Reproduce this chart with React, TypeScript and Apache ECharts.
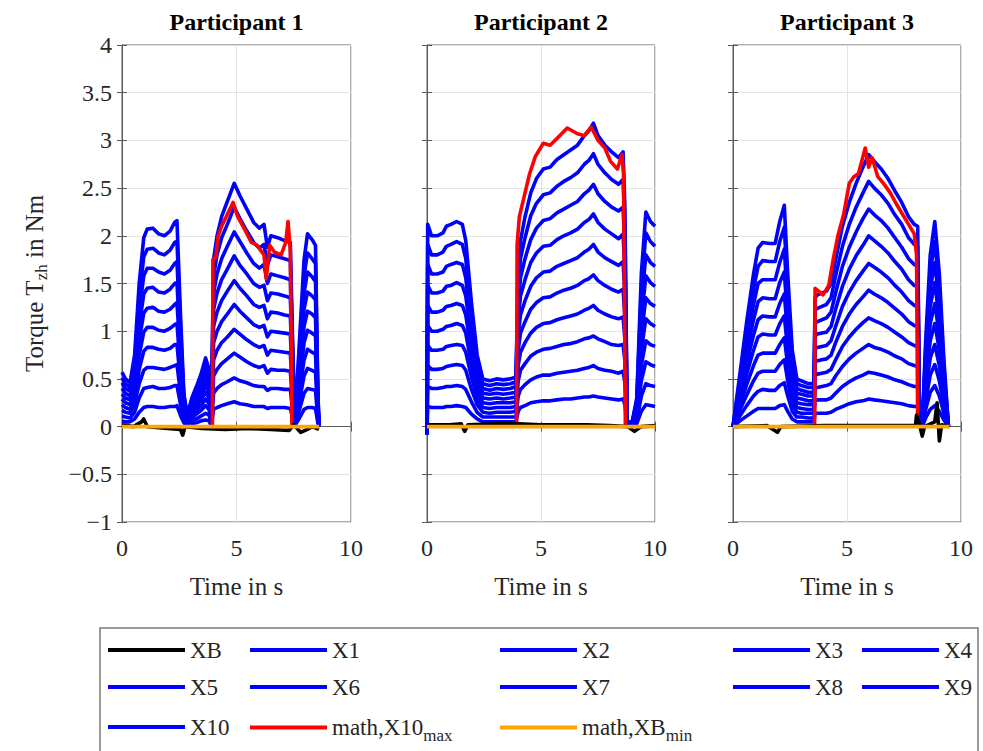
import React, { useEffect, useRef } from "react";
import * as echarts from "echarts";

// ---------- Participant 1 ----------
const T1 = [0, 0.15, 0.35, 0.55, 0.75, 0.95, 1.1, 1.35, 1.6, 1.85, 2.1, 2.3, 2.4, 2.55, 2.7, 2.85, 3.05, 3.25, 3.45, 3.65, 3.8, 3.9, 4.0, 4.15, 4.35, 4.6, 4.9, 5.15, 5.45, 5.75, 6.0, 6.2, 6.35, 6.5, 6.8, 7.1, 7.35, 7.45, 7.55, 7.75, 7.95, 8.1, 8.3, 8.45, 8.55, 8.6];
const P1_X1 = [0.06,0.05,0.05,0.08,0.15,0.20,0.21,0.21,0.20,0.20,0.21,0.21,0.22,0.12,0.04,0.01,0.03,0.04,0.06,0.07,0.06,0.01,0.18,0.20,0.22,0.24,0.26,0.24,0.23,0.21,0.21,0.21,0.19,0.20,0.20,0.20,0.19,0.09,0.01,0.09,0.18,0.20,0.20,0.19,0.04,0.00];
const P1_X2 = [0.11,0.10,0.09,0.15,0.30,0.40,0.41,0.42,0.40,0.40,0.41,0.43,0.43,0.24,0.07,0.02,0.06,0.08,0.11,0.14,0.12,0.02,0.35,0.40,0.44,0.47,0.51,0.48,0.46,0.43,0.42,0.42,0.38,0.40,0.40,0.39,0.39,0.18,0.01,0.18,0.35,0.40,0.39,0.38,0.08,0.00];
const P1_X3 = [0.17,0.15,0.14,0.23,0.45,0.59,0.62,0.62,0.61,0.60,0.62,0.64,0.65,0.36,0.11,0.04,0.09,0.13,0.17,0.22,0.18,0.03,0.53,0.60,0.66,0.71,0.77,0.73,0.68,0.64,0.62,0.64,0.56,0.60,0.59,0.59,0.58,0.27,0.02,0.27,0.53,0.61,0.59,0.57,0.12,0.01];
const P1_X4 = [0.23,0.20,0.18,0.30,0.60,0.79,0.83,0.83,0.81,0.80,0.82,0.86,0.86,0.48,0.14,0.05,0.12,0.17,0.22,0.29,0.24,0.04,0.70,0.80,0.88,0.94,1.02,0.97,0.91,0.86,0.83,0.85,0.75,0.80,0.79,0.78,0.77,0.36,0.02,0.36,0.70,0.81,0.78,0.76,0.16,0.01];
const P1_X5 = [0.29,0.25,0.23,0.38,0.75,0.99,1.04,1.04,1.01,1.00,1.03,1.07,1.08,0.60,0.18,0.06,0.15,0.21,0.28,0.36,0.30,0.05,0.88,1.00,1.10,1.18,1.28,1.21,1.14,1.07,1.04,1.06,0.94,1.00,0.99,0.98,0.97,0.45,0.03,0.45,0.88,1.01,0.98,0.95,0.20,0.01];
const P1_X6 = [0.34,0.30,0.28,0.45,0.90,1.19,1.24,1.25,1.21,1.20,1.23,1.28,1.30,0.72,0.21,0.07,0.18,0.25,0.33,0.43,0.36,0.06,1.05,1.20,1.32,1.42,1.53,1.45,1.37,1.28,1.25,1.27,1.13,1.20,1.19,1.17,1.16,0.54,0.03,0.54,1.05,1.21,1.18,1.14,0.24,0.01];
const P1_X7 = [0.40,0.35,0.32,0.53,1.05,1.39,1.45,1.46,1.41,1.40,1.44,1.50,1.51,0.84,0.25,0.08,0.21,0.29,0.39,0.50,0.42,0.07,1.23,1.40,1.54,1.65,1.79,1.69,1.60,1.50,1.46,1.48,1.32,1.40,1.39,1.37,1.35,0.63,0.04,0.63,1.23,1.41,1.37,1.33,0.28,0.01];
const P1_X8 = [0.46,0.40,0.37,0.60,1.20,1.58,1.66,1.66,1.62,1.60,1.64,1.71,1.73,0.96,0.28,0.10,0.24,0.34,0.44,0.58,0.48,0.08,1.40,1.60,1.76,1.89,2.04,1.94,1.82,1.71,1.66,1.70,1.50,1.60,1.58,1.56,1.54,0.72,0.04,0.72,1.40,1.62,1.57,1.52,0.32,0.02];
const P1_X9 = [0.51,0.45,0.41,0.68,1.35,1.78,1.86,1.87,1.82,1.80,1.85,1.93,1.94,1.08,0.32,0.11,0.27,0.38,0.50,0.65,0.54,0.09,1.58,1.80,1.98,2.12,2.30,2.18,2.05,1.93,1.87,1.91,1.69,1.80,1.78,1.76,1.74,0.81,0.05,0.81,1.58,1.82,1.76,1.71,0.36,0.02];
const P1_X10 = [0.57,0.50,0.46,0.75,1.50,1.98,2.07,2.08,2.02,2.00,2.05,2.14,2.16,1.20,0.35,0.12,0.30,0.42,0.55,0.72,0.60,0.10,1.75,2.00,2.20,2.36,2.55,2.42,2.28,2.14,2.08,2.12,1.88,2.00,1.98,1.95,1.93,0.90,0.05,0.90,1.75,2.02,1.96,1.90,0.40,0.02];
const P1_MAX_T = [3.95, 3.97, 4.1, 4.2, 4.35, 4.55, 4.85, 5.05, 5.35, 5.65, 5.9, 6.2, 6.3, 6.45, 6.65, 6.95, 7.15, 7.25, 7.35, 7.42];
const P1_MAX_V = [0, 1.75, 1.78, 2.0, 2.1, 2.2, 2.35, 2.2, 2.07, 1.93, 1.9, 1.8, 1.55, 1.9, 1.83, 1.8, 1.93, 2.15, 1.85, 0];
const P1_XB_T = [0, 0.5, 0.85, 0.95, 1.1, 2.0, 2.55, 2.65, 2.75, 3.5, 4.5, 5.5, 6.5, 7.3, 7.5, 7.8, 8.1, 8.3, 8.6];
const P1_XB_V = [0.02, 0.0, 0.05, 0.08, 0.0, -0.02, -0.03, -0.09, 0.0, -0.02, -0.03, -0.02, -0.03, -0.04, 0.02, -0.06, -0.03, 0.0, -0.03];
const P1_MIN_T = [0, 8.6];
const P1_MIN_V = [0, 0];

// ---------- Participant 2 ----------
const T2 = [0, 0.03, 0.2, 0.45, 0.7, 0.85, 1.05, 1.3, 1.55, 1.7, 1.95, 2.2, 2.45, 2.75, 3.05, 3.35, 3.65, 3.9, 4.0, 4.1, 4.3, 4.55, 4.8, 5.1, 5.4, 5.7, 6.0, 6.3, 6.6, 6.9, 7.1, 7.3, 7.5, 7.8, 8.1, 8.4, 8.6, 8.68, 8.78, 9.0, 9.2, 9.4, 9.6, 9.8, 10];
const P2_X1 = [-0.08,0.21,0.20,0.20,0.20,0.21,0.21,0.22,0.21,0.20,0.13,0.08,0.05,0.05,0.05,0.05,0.05,0.05,0.16,0.20,0.22,0.25,0.26,0.27,0.27,0.28,0.29,0.29,0.30,0.31,0.31,0.32,0.31,0.30,0.29,0.28,0.29,0.23,0.01,0.01,0.03,0.16,0.23,0.22,0.21];
const P2_X2 = [-0.08,0.42,0.40,0.40,0.41,0.42,0.42,0.43,0.42,0.39,0.26,0.15,0.10,0.10,0.10,0.10,0.10,0.10,0.32,0.39,0.44,0.49,0.52,0.54,0.54,0.56,0.57,0.58,0.59,0.61,0.62,0.64,0.61,0.59,0.58,0.56,0.58,0.46,0.01,0.01,0.06,0.32,0.45,0.43,0.42];
const P2_X3 = [-0.08,0.64,0.60,0.60,0.61,0.63,0.64,0.65,0.64,0.59,0.39,0.23,0.15,0.14,0.15,0.15,0.15,0.16,0.48,0.59,0.66,0.74,0.78,0.81,0.82,0.84,0.86,0.87,0.89,0.92,0.93,0.95,0.92,0.89,0.86,0.85,0.86,0.69,0.02,0.02,0.09,0.48,0.68,0.65,0.63];
const P2_X4 = [-0.08,0.85,0.80,0.80,0.81,0.84,0.85,0.86,0.85,0.78,0.52,0.30,0.20,0.19,0.20,0.20,0.20,0.21,0.64,0.78,0.88,0.98,1.04,1.08,1.09,1.12,1.14,1.16,1.18,1.22,1.24,1.27,1.22,1.18,1.15,1.13,1.15,0.92,0.02,0.02,0.12,0.64,0.90,0.86,0.84];
const P2_X5 = [-0.08,1.06,1.00,1.00,1.02,1.05,1.06,1.08,1.06,0.98,0.65,0.38,0.25,0.24,0.25,0.25,0.25,0.26,0.80,0.98,1.10,1.23,1.30,1.35,1.36,1.40,1.43,1.45,1.48,1.53,1.55,1.59,1.53,1.48,1.44,1.41,1.44,1.15,0.03,0.03,0.15,0.80,1.13,1.08,1.05];
const P2_X6 = [-0.08,1.27,1.20,1.20,1.22,1.26,1.27,1.29,1.27,1.17,0.78,0.45,0.30,0.29,0.30,0.29,0.30,0.31,0.96,1.17,1.32,1.47,1.56,1.62,1.63,1.68,1.71,1.74,1.77,1.83,1.86,1.91,1.83,1.77,1.73,1.69,1.73,1.38,0.03,0.03,0.18,0.96,1.35,1.29,1.26];
const P2_X7 = [-0.08,1.48,1.40,1.40,1.42,1.47,1.48,1.51,1.48,1.37,0.91,0.53,0.35,0.34,0.35,0.34,0.35,0.36,1.12,1.37,1.54,1.72,1.82,1.89,1.90,1.96,2.00,2.03,2.07,2.14,2.17,2.23,2.14,2.07,2.02,1.97,2.02,1.61,0.04,0.04,0.21,1.12,1.58,1.51,1.47];
const P2_X8 = [-0.08,1.70,1.60,1.60,1.62,1.68,1.70,1.72,1.70,1.56,1.04,0.60,0.40,0.38,0.40,0.39,0.40,0.42,1.28,1.56,1.76,1.96,2.08,2.16,2.18,2.24,2.28,2.32,2.36,2.44,2.48,2.54,2.44,2.36,2.30,2.26,2.30,1.84,0.04,0.04,0.24,1.28,1.80,1.72,1.68];
const P2_X9 = [-0.08,1.91,1.80,1.80,1.83,1.89,1.91,1.94,1.91,1.76,1.17,0.68,0.45,0.43,0.45,0.44,0.45,0.47,1.44,1.76,1.98,2.21,2.34,2.43,2.45,2.52,2.57,2.61,2.66,2.75,2.79,2.86,2.75,2.66,2.59,2.54,2.59,2.07,0.05,0.05,0.27,1.44,2.03,1.94,1.89];
const P2_X10 = [-0.08,2.12,2.00,2.00,2.03,2.10,2.12,2.15,2.12,1.95,1.30,0.75,0.50,0.48,0.50,0.49,0.50,0.52,1.60,1.95,2.20,2.45,2.60,2.70,2.72,2.80,2.85,2.90,2.95,3.05,3.10,3.18,3.05,2.95,2.88,2.82,2.88,2.30,0.05,0.05,0.30,1.60,2.25,2.15,2.10];
const P2_MAX_T = [3.93, 3.95, 4.05, 4.25, 4.5, 4.75, 5.1, 5.4, 5.7, 6.15, 6.6, 6.9, 7.2, 7.5, 7.8, 8.05, 8.35, 8.55, 8.62, 8.7];
const P2_MAX_V = [0, 1.9, 2.2, 2.4, 2.65, 2.83, 2.97, 2.95, 3.02, 3.13, 3.07, 3.05, 3.14, 3.0, 2.92, 2.78, 2.7, 2.85, 2.65, 0];
const P2_XB_T = [0, 1.0, 1.5, 1.65, 1.8, 3, 4, 5, 6, 7, 8, 8.8, 9.1, 9.4, 10];
const P2_XB_V = [0.02, 0.02, 0.03, -0.05, 0.02, 0.03, 0.03, 0.02, 0.02, 0.02, 0.01, 0.0, -0.05, 0.0, 0.01];
const P2_MIN_T = [0, 10];
const P2_MIN_V = [0, 0];

// ---------- Participant 3 ----------
const T3 = [0, 0.3, 0.6, 0.9, 1.1, 1.3, 1.6, 1.85, 2.05, 2.25, 2.4, 2.6, 2.8, 3.0, 3.3, 3.55, 3.6, 3.7, 3.9, 4.1, 4.3, 4.5, 4.8, 5.1, 5.4, 5.7, 5.95, 6.2, 6.5, 6.8, 7.1, 7.4, 7.7, 7.95, 8.1, 8.18, 8.3, 8.45, 8.65, 8.85, 9.05, 9.25, 9.45];
const P3_X1 = [0.00,0.06,0.11,0.16,0.19,0.19,0.19,0.19,0.22,0.23,0.16,0.08,0.05,0.05,0.05,0.05,0.14,0.14,0.14,0.14,0.15,0.18,0.21,0.24,0.26,0.27,0.29,0.28,0.27,0.26,0.25,0.24,0.22,0.21,0.21,0.01,0.00,0.09,0.18,0.22,0.16,0.07,0.00];
const P3_X2 = [0.00,0.11,0.22,0.32,0.37,0.39,0.38,0.38,0.43,0.46,0.32,0.16,0.10,0.10,0.09,0.09,0.27,0.28,0.28,0.28,0.30,0.35,0.42,0.47,0.51,0.54,0.57,0.56,0.54,0.52,0.49,0.47,0.44,0.42,0.42,0.01,0.00,0.18,0.36,0.43,0.32,0.14,0.00];
const P3_X3 = [0.00,0.17,0.33,0.48,0.56,0.58,0.58,0.58,0.65,0.70,0.48,0.24,0.15,0.14,0.14,0.14,0.41,0.41,0.42,0.43,0.45,0.53,0.63,0.71,0.77,0.82,0.86,0.83,0.81,0.78,0.74,0.71,0.66,0.64,0.63,0.02,0.00,0.27,0.54,0.65,0.48,0.21,0.00];
const P3_X4 = [0.00,0.22,0.44,0.64,0.75,0.77,0.77,0.77,0.86,0.93,0.64,0.32,0.20,0.19,0.18,0.18,0.54,0.55,0.56,0.57,0.60,0.70,0.84,0.94,1.02,1.09,1.14,1.11,1.08,1.04,0.99,0.94,0.88,0.85,0.84,0.02,0.00,0.36,0.72,0.86,0.64,0.28,0.00];
const P3_X5 = [0.00,0.28,0.55,0.80,0.94,0.97,0.96,0.96,1.08,1.16,0.80,0.40,0.25,0.24,0.23,0.23,0.68,0.69,0.70,0.71,0.75,0.88,1.05,1.18,1.28,1.36,1.43,1.39,1.35,1.30,1.24,1.18,1.10,1.06,1.05,0.03,0.00,0.45,0.90,1.08,0.80,0.35,0.00];
const P3_X6 = [0.00,0.33,0.66,0.96,1.12,1.16,1.15,1.15,1.29,1.39,0.96,0.48,0.30,0.29,0.27,0.27,0.81,0.83,0.84,0.85,0.90,1.05,1.26,1.41,1.53,1.63,1.71,1.67,1.62,1.56,1.48,1.41,1.32,1.27,1.26,0.03,0.00,0.54,1.08,1.29,0.96,0.42,0.00];
const P3_X7 = [0.00,0.39,0.77,1.12,1.31,1.35,1.34,1.34,1.51,1.62,1.12,0.56,0.35,0.34,0.32,0.32,0.95,0.97,0.98,0.99,1.05,1.23,1.47,1.65,1.79,1.90,2.00,1.95,1.89,1.82,1.73,1.65,1.54,1.48,1.47,0.04,0.00,0.63,1.26,1.51,1.12,0.49,0.00];
const P3_X8 = [0.00,0.44,0.88,1.28,1.50,1.54,1.54,1.54,1.72,1.86,1.28,0.64,0.40,0.38,0.36,0.36,1.08,1.10,1.12,1.14,1.20,1.40,1.68,1.88,2.04,2.18,2.28,2.22,2.16,2.08,1.98,1.88,1.76,1.70,1.68,0.04,0.00,0.72,1.44,1.72,1.28,0.56,0.00];
const P3_X9 = [0.00,0.50,0.99,1.44,1.68,1.74,1.73,1.73,1.94,2.09,1.44,0.72,0.45,0.43,0.41,0.41,1.22,1.24,1.26,1.28,1.35,1.58,1.89,2.12,2.30,2.45,2.57,2.50,2.43,2.34,2.22,2.12,1.98,1.91,1.89,0.05,0.00,0.81,1.62,1.94,1.44,0.63,0.00];
const P3_X10 = [0.00,0.55,1.10,1.60,1.87,1.93,1.92,1.92,2.15,2.32,1.60,0.80,0.50,0.48,0.45,0.45,1.35,1.38,1.40,1.42,1.50,1.75,2.10,2.35,2.55,2.72,2.85,2.78,2.70,2.60,2.47,2.35,2.20,2.12,2.10,0.05,0.00,0.90,1.80,2.15,1.60,0.70,0.00];
const P3_MAX_T = [3.58, 3.6, 3.75, 3.95, 4.2, 4.4, 4.6, 4.85, 5.1, 5.3, 5.5, 5.8, 5.95, 6.1, 6.35, 6.6, 6.9, 7.2, 7.5, 7.8, 7.95, 8.05, 8.1];
const P3_MAX_V = [0, 1.45, 1.42, 1.38, 1.48, 1.76, 2.0, 2.22, 2.55, 2.62, 2.65, 2.92, 2.72, 2.82, 2.62, 2.55, 2.45, 2.32, 2.2, 2.08, 2.02, 1.8, 0];
const P3_XB_T = [0, 1.5, 1.95, 2.1, 4, 6, 8, 8.05, 8.15, 8.3, 8.4, 8.85, 8.95, 9.05, 9.15, 9.5];
const P3_XB_V = [0, 0.01, -0.06, 0, 0.01, 0.01, 0.01, 0.12, 0.05, -0.1, 0, 0.05, 0.25, -0.15, 0.02, 0];
const P3_MIN_T = [0, 9.5];
const P3_MIN_V = [0, 0];

const TITLES = ["Participant 1", "Participant 2", "Participant 3"];
const LEVEL_NAMES = ["X1", "X2", "X3", "X4", "X5", "X6", "X7", "X8", "X9", "X10"];
const NAME_XB = "XB";
const NAME_MAX = "math,X10max";
const NAME_MIN = "math,XBmin";

const PANELS = [
  { t: T1, levels: [P1_X1, P1_X2, P1_X3, P1_X4, P1_X5, P1_X6, P1_X7, P1_X8, P1_X9, P1_X10], maxT: P1_MAX_T, maxV: P1_MAX_V, xbT: P1_XB_T, xbV: P1_XB_V, minT: P1_MIN_T, minV: P1_MIN_V },
  { t: T2, levels: [P2_X1, P2_X2, P2_X3, P2_X4, P2_X5, P2_X6, P2_X7, P2_X8, P2_X9, P2_X10], maxT: P2_MAX_T, maxV: P2_MAX_V, xbT: P2_XB_T, xbV: P2_XB_V, minT: P2_MIN_T, minV: P2_MIN_V },
  { t: T3, levels: [P3_X1, P3_X2, P3_X3, P3_X4, P3_X5, P3_X6, P3_X7, P3_X8, P3_X9, P3_X10], maxT: P3_MAX_T, maxV: P3_MAX_V, xbT: P3_XB_T, xbV: P3_XB_V, minT: P3_MIN_T, minV: P3_MIN_V },
];

const FONT = '"Liberation Serif", "DejaVu Serif", serif';
const BLUE = "#0000ff";
const RED = "#ff0000";
const ORANGE = "#ffa500";
const BLACK = "#000000";
const AXIS_GRAY = "#5a5a5a";
const TEXT = "#262626";

const GRID_LEFT = [122, 427, 733];
const GRID_WIDTH = [229, 228, 228];
const GRID_TOP = 45;
const GRID_HEIGHT = 477;

function pairs(ts: number[], vs: number[]) {
  return ts.map((t, i) => [t, vs[i]]);
}

function line(name: string, ts: number[], vs: number[], panel: number, color: string, z: number) {
  return {
    type: "line",
    name,
    xAxisIndex: panel,
    yAxisIndex: panel,
    data: pairs(ts, vs),
    showSymbol: false,
    symbol: "none",
    color,
    itemStyle: { color },
    lineStyle: { width: 3.6, color, join: "round" },
    emphasis: { disabled: true },
    z,
  };
}

function minusFmt(v: number) {
  return v < 0 ? "\u2212" + String(Math.abs(v)) : String(v);
}

function buildOption() {
  const series: any[] = [];
  PANELS.forEach((p, i) => {
    p.levels.forEach((vals, k) => series.push(line(LEVEL_NAMES[k], p.t, vals, i, BLUE, 2)));
    series.push(line(NAME_MAX, p.maxT, p.maxV, i, RED, 3));
    series.push(line(NAME_XB, p.xbT, p.xbV, i, BLACK, 4));
    series.push(line(NAME_MIN, p.minT, p.minV, i, ORANGE, 5));
  });

  const grid = GRID_LEFT.map((left, i) => ({
    left,
    top: GRID_TOP,
    width: GRID_WIDTH[i],
    height: GRID_HEIGHT,
    show: true,
    borderColor: AXIS_GRAY,
    borderWidth: 1,
    backgroundColor: "transparent",
  }));

  const bottomAxes = [0, 1, 2].map((i) => ({
    type: "value",
    gridIndex: i,
    position: "bottom",
    min: 0,
    max: 10,
    interval: 5,
    name: "Time in s",
    nameLocation: "middle",
    nameGap: 52,
    nameTextStyle: { fontFamily: FONT, fontSize: 25, color: TEXT },
    axisLine: { show: true, lineStyle: { color: AXIS_GRAY, width: 1 } },
    axisTick: { show: true, inside: true, length: 5, lineStyle: { color: AXIS_GRAY } },
    axisLabel: { show: true, margin: 14, fontFamily: FONT, fontSize: 24, color: TEXT },
    splitLine: { show: true, lineStyle: { color: "#e3e3e3", width: 1 } },
  }));
  const topAxes = [0, 1, 2].map((i) => ({
    type: "value",
    gridIndex: i,
    position: "top",
    min: 0,
    max: 10,
    interval: 5,
    axisLine: { show: false },
    axisTick: { show: true, inside: true, length: 5, lineStyle: { color: AXIS_GRAY } },
    axisLabel: { show: false },
    splitLine: { show: false },
  }));

  const leftAxes = [0, 1, 2].map((i) => ({
    type: "value",
    gridIndex: i,
    position: "left",
    min: -1,
    max: 4,
    interval: 0.5,
    name: i === 0 ? "Torque T{sub|zh} in Nm" : "",
    nameLocation: "middle",
    nameGap: 72,
    nameRotate: 90,
    nameTextStyle: {
      fontFamily: FONT,
      fontSize: 25,
      color: TEXT,
      rich: {
        sub: { fontFamily: FONT, fontSize: 17, color: TEXT, padding: [14, 0, 0, 0] },
      },
    },
    axisLine: { show: true, lineStyle: { color: AXIS_GRAY, width: 1 } },
    axisTick: { show: true, inside: true, length: 5, lineStyle: { color: AXIS_GRAY } },
    axisLabel: { show: i === 0, margin: 10, fontFamily: FONT, fontSize: 24, color: TEXT, formatter: minusFmt },
    splitLine: { show: true, lineStyle: { color: "#e3e3e3", width: 1 } },
  }));
  const rightAxes = [0, 1, 2].map((i) => ({
    type: "value",
    gridIndex: i,
    position: "right",
    min: -1,
    max: 4,
    interval: 0.5,
    axisLine: { show: false },
    axisTick: { show: true, inside: true, length: 5, lineStyle: { color: AXIS_GRAY } },
    axisLabel: { show: false },
    splitLine: { show: false },
  }));

  const title = TITLES.map((text, i) => ({
    text,
    left: GRID_LEFT[i] + GRID_WIDTH[i] / 2,
    top: 10,
    textAlign: "center",
    padding: 0,
    textStyle: { fontFamily: FONT, fontSize: 24, fontWeight: "bold", color: "#000" },
  }));

  // legend slots: [name, left, top]
  const slots: [string, number, number][] = [
    [NAME_XB, 108, 638], ["X1", 250, 638], ["X2", 500, 638], ["X3", 733, 638], ["X4", 862, 638],
    ["X5", 108, 675], ["X6", 250, 675], ["X7", 500, 675], ["X8", 733, 675], ["X9", 862, 675],
    ["X10", 108, 715], [NAME_MAX, 250, 711], [NAME_MIN, 500, 711],
  ];
  const legend = slots.map(([name, left, top]) => ({
    data: [name],
    left,
    top,
    padding: 0,
    orient: "horizontal",
    icon: "rect",
    itemWidth: 77,
    itemHeight: 4,
    selectedMode: false,
    z: 10,
    formatter: (n: string) =>
      n === NAME_MAX ? "math,X10{sub|max}" : n === NAME_MIN ? "math,XB{sub|min}" : n,
    textStyle: {
      fontFamily: FONT,
      fontSize: 23,
      color: TEXT,
      lineHeight: 24,
      rich: {
        sub: { fontFamily: FONT, fontSize: 17, color: TEXT, lineHeight: 17, padding: [16, 0, 0, 0] },
      },
    },
  }));

  return {
    animation: false,
    backgroundColor: "#ffffff",
    title,
    grid,
    xAxis: [...bottomAxes, ...topAxes],
    yAxis: [...leftAxes, ...rightAxes],
    legend,
    graphic: {
      elements: [
        {
          type: "rect",
          z: 1,
          shape: { x: 100, y: 628, width: 878, height: 140 },
          style: { fill: "#ffffff", stroke: "#7a7a7a", lineWidth: 1.5 },
        },
      ],
    },
    series,
  };
}

export default function App() {
  const ref = useRef<HTMLDivElement>(null);
  useEffect(() => {
    document.body.style.margin = "0";
    const chart = echarts.init(ref.current as HTMLDivElement, null, { renderer: "svg" });
    chart.setOption(buildOption() as any);
    return () => chart.dispose();
  }, []);
  return <div ref={ref} style={{ width: 983, height: 751 }} />;
}
